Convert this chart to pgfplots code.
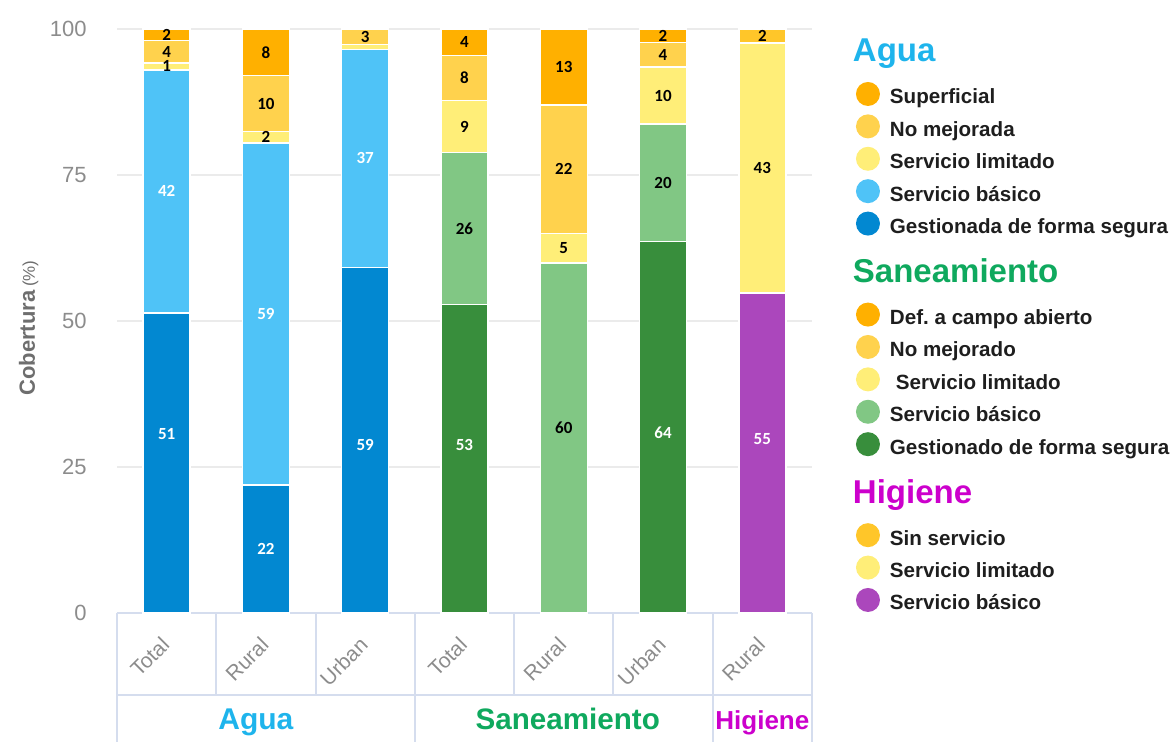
\documentclass[border=0pt]{standalone}
\usepackage{pgfplots}
\pgfplotsset{compat=1.18}
\usepackage{pgfplotstable}
\usepackage{fontspec}
\setmainfont{Liberation Sans}
\newfontfamily\carlito{Carlito}

\definecolor{supc}{HTML}{FFB000}
\definecolor{nomc}{HTML}{FFD24D}
\definecolor{limc}{HTML}{FFEE78}
\definecolor{aguaBas}{HTML}{4FC3F7}
\definecolor{aguaGest}{HTML}{0288D1}
\definecolor{sanBas}{HTML}{81C784}
\definecolor{sanGest}{HTML}{388E3C}
\definecolor{higSin}{HTML}{FFC629}
\definecolor{higBas}{HTML}{AB47BC}
\definecolor{aguaT}{HTML}{1EB4EC}
\definecolor{sanT}{HTML}{0FA95E}
\definecolor{higT}{HTML}{CC00CC}
\definecolor{tickgray}{HTML}{8C8C8C}
\definecolor{labgray}{HTML}{6E6E6E}
\definecolor{gridgray}{HTML}{EBEBEB}
\definecolor{tablec}{HTML}{D5DDEE}
\definecolor{legtext}{HTML}{1E1E1E}

% values (plotted heights), labels and label offsets (in %-points)
\pgfplotstableread{
x gest lgest ogest bas lbas lim llim nom lnom sup lsup
0 51.4 51 5.0 41.6 42 1.2 1 3.8 4 2.0 2
1 21.9 22 0 58.6 59 1.9 2 9.6 10 8.0 8
2 59.2 59 -0.8 37.3 37 0.8 {} 2.7 3 0 {}
3 0 {} 0 0 {} 0 {} 0 {} 0 {}
4 0 {} 0 0 {} 0 {} 0 {} 0 {}
5 0 {} 0 0 {} 0 {} 0 {} 0 {}
6 0 {} 0 0 {} 0 {} 0 {} 0 {}
}\agua

\pgfplotstableread{
x gest lgest ogest bas lbas obas lim llim nom lnom def ldef
0 0 {} 0 0 {} 0 0 {} 0 {} 0 {}
1 0 {} 0 0 {} 0 0 {} 0 {} 0 {}
2 0 {} 0 0 {} 0 0 {} 0 {} 0 {}
3 52.8 53 2.4 26.0 26 0 9.0 9 7.7 8 4.5 4
4 0 {} 0 59.9 60 1.7 5.1 5 22.0 22 13.0 13
5 63.6 64 -1.0 20.1 20 0 9.8 10 4.2 4 2.3 2
6 0 {} 0 0 {} 0 0 {} 0 {} 0 {}
}\san

\pgfplotstableread{
x bas lbas obas lim llim sin lsin
0 0 {} 0 0 {} 0 {}
1 0 {} 0 0 {} 0 {}
2 0 {} 0 0 {} 0 {}
3 0 {} 0 0 {} 0 {}
4 0 {} 0 0 {} 0 {}
5 0 {} 0 0 {} 0 {}
6 54.8 55 2.4 42.8 43 2.4 2
}\hig

\pgfplotsset{
  dot/.style={legend image code/.code={\fill[##1, draw=none] (6pt,0pt) circle (6pt);}},
  labshift/.style={visualization depends on={\thisrow{#1}\as\off},
    every node near coord/.append style={shift={(axis direction cs:0,\off)}}},
}

\begin{document}
\begin{tikzpicture}
\path[use as bounding box] (-58.5pt,-64.5pt) rectangle (528.5pt,306.5pt);
\begin{axis}[
  at={(0,0)}, anchor=south west,
  scale only axis, width=347.5pt, height=292pt,
  xmin=-0.5, xmax=6.5, ymin=0, ymax=100,
  ybar stacked, bar width=23.5pt,
  axis line style={draw=none},
  xtick={0,...,6},
  xticklabels={Total,Rural,Urban,Total,Rural,Urban,Rural},
  ytick={0,25,50,75,100},
  major tick length=0pt,
  ymajorgrids, major grid style={draw=gridgray, line width=0.8pt},
  /pgf/number format/assume math mode=true,
  yticklabel style={font=\fontsize{11}{11}\selectfont, text=tickgray, anchor=east, inner sep=0pt, xshift=-15pt},
  xticklabel style={font=\fontsize{10.5}{10.5}\selectfont, text=tickgray, inner sep=0pt, anchor=east, xshift=-0.5pt, yshift=-14pt, rotate=45},
  ylabel={\bfseries Cobertura\,{\mdseries\fontsize{8.5}{8.5}\selectfont(\%)}},
  every axis y label/.style={at={(axis description cs:0,0.488)}, xshift=-41pt, rotate=90, anchor=base, font=\fontsize{11}{11}\selectfont, text=labgray},
  point meta=explicit symbolic,
  nodes near coords,
  every node near coord/.append style={anchor=center, font=\carlito\bfseries\fontsize{8.5}{8.5}\selectfont, inner sep=0pt},
  clip=false,
  legend cell align=left,
  legend style={draw=none, fill=none, at={(1.0633,1.0168)}, anchor=north west, inner sep=0pt, outer sep=0pt, row sep=0pt, column sep=5pt, nodes={inner sep=0pt, text height=13.1pt, text depth=3.1pt, text=legtext, font=\bfseries\fontsize{10.3}{10.3}\selectfont}},
]
% Agua
\addplot[forget plot, fill=aguaGest, draw=white, line width=0.7pt, labshift=ogest, every node near coord/.append style={text=white}] table[x=x,y=gest,meta=lgest]{\agua};
\addplot[forget plot, fill=aguaBas, draw=white, line width=0.7pt, every node near coord/.append style={text=white}] table[x=x,y=bas,meta=lbas]{\agua};
\addplot[forget plot, fill=limc, draw=white, line width=0.7pt, every node near coord/.append style={text=black}] table[x=x,y=lim,meta=llim]{\agua};
\addplot[forget plot, fill=nomc, draw=white, line width=0.7pt, every node near coord/.append style={text=black}] table[x=x,y=nom,meta=lnom]{\agua};
\addplot[forget plot, fill=supc, draw=white, line width=0.7pt, every node near coord/.append style={text=black}] table[x=x,y=sup,meta=lsup]{\agua};
% Saneamiento
\addplot[forget plot, fill=sanGest, draw=white, line width=0.7pt, labshift=ogest, every node near coord/.append style={text=white}] table[x=x,y=gest,meta=lgest]{\san};
\addplot[forget plot, fill=sanBas, draw=white, line width=0.7pt, labshift=obas, every node near coord/.append style={text=black}] table[x=x,y=bas,meta=lbas]{\san};
\addplot[forget plot, fill=limc, draw=white, line width=0.7pt, every node near coord/.append style={text=black}] table[x=x,y=lim,meta=llim]{\san};
\addplot[forget plot, fill=nomc, draw=white, line width=0.7pt, every node near coord/.append style={text=black}] table[x=x,y=nom,meta=lnom]{\san};
\addplot[forget plot, fill=supc, draw=white, line width=0.7pt, every node near coord/.append style={text=black}] table[x=x,y=def,meta=ldef]{\san};
% Higiene
\addplot[forget plot, fill=higBas, draw=white, line width=0.7pt, labshift=obas, every node near coord/.append style={text=white}] table[x=x,y=bas,meta=lbas]{\hig};
\addplot[forget plot, fill=limc, draw=white, line width=0.7pt, every node near coord/.append style={text=black}] table[x=x,y=lim,meta=llim]{\hig};
\addplot[forget plot, fill=higSin, draw=white, line width=0.7pt, every node near coord/.append style={text=black}] table[x=x,y=sin,meta=lsin]{\hig};

% Legend
\addlegendimage{empty legend}
\addlegendentry[text height=21.4pt, text depth=7.9pt]{\hspace*{-18.5pt}{\color{aguaT}\fontsize{16.5}{16.5}\selectfont Agua}}
\addlegendimage{dot, fill=supc}\addlegendentry{Superficial}
\addlegendimage{dot, fill=nomc}\addlegendentry{No mejorada}
\addlegendimage{dot, fill=limc}\addlegendentry{Servicio limitado}
\addlegendimage{dot, fill=aguaBas}\addlegendentry{Servicio básico}
\addlegendimage{dot, fill=aguaGest}\addlegendentry{Gestionada de forma segura}
\addlegendimage{empty legend}
\addlegendentry[text height=21.4pt, text depth=7.9pt]{\hspace*{-18.5pt}{\color{sanT}\fontsize{16.5}{16.5}\selectfont Saneamiento}}
\addlegendimage{dot, fill=supc}\addlegendentry{Def.\ a campo abierto}
\addlegendimage{dot, fill=nomc}\addlegendentry{No mejorado}
\addlegendimage{dot, fill=limc}\addlegendentry{\hspace*{3pt}Servicio limitado}
\addlegendimage{dot, fill=sanBas}\addlegendentry{Servicio básico}
\addlegendimage{dot, fill=sanGest}\addlegendentry{Gestionado de forma segura}
\addlegendimage{empty legend}
\addlegendentry[text height=21.4pt, text depth=7.9pt]{\hspace*{-18.5pt}{\color{higT}\fontsize{16.5}{16.5}\selectfont Higiene}}
\addlegendimage{dot, fill=higSin}\addlegendentry{Sin servicio}
\addlegendimage{dot, fill=limc}\addlegendentry{Servicio limitado}
\addlegendimage{dot, fill=higBas}\addlegendentry{Servicio básico}

% category table below the axis
\draw[tablec, line width=1pt] (axis cs:-0.5,0) -- (axis cs:6.5,0);
\draw[tablec, line width=1pt] ([yshift=-41pt]axis cs:-0.5,0) -- ([yshift=-41pt]axis cs:6.5,0);
\draw[tablec, line width=1pt] (axis cs:0.5,0) -- ([yshift=-41pt]axis cs:0.5,0);
\draw[tablec, line width=1pt] (axis cs:1.5,0) -- ([yshift=-41pt]axis cs:1.5,0);
\draw[tablec, line width=1pt] (axis cs:3.5,0) -- ([yshift=-41pt]axis cs:3.5,0);
\draw[tablec, line width=1pt] (axis cs:4.5,0) -- ([yshift=-41pt]axis cs:4.5,0);
\draw[tablec, line width=1pt] (axis cs:-0.5,0) -- ([yshift=-70pt]axis cs:-0.5,0);
\draw[tablec, line width=1pt] (axis cs:2.5,0) -- ([yshift=-70pt]axis cs:2.5,0);
\draw[tablec, line width=1pt] (axis cs:5.5,0) -- ([yshift=-70pt]axis cs:5.5,0);
\draw[tablec, line width=1pt] (axis cs:6.5,0) -- ([yshift=-70pt]axis cs:6.5,0);
\node[anchor=base, font=\bfseries\fontsize{15}{15}\selectfont, text=aguaT, xshift=-5pt, yshift=-58.5pt] at (axis cs:1,0) {Agua};
\node[anchor=base, font=\bfseries\fontsize{14.8}{14.8}\selectfont, text=sanT, xshift=2pt, yshift=-58.5pt] at (axis cs:4,0) {Saneamiento};
\node[anchor=base, font=\bfseries\fontsize{13}{13}\selectfont, text=higT, yshift=-58.5pt] at (axis cs:6,0) {Higiene};
\end{axis}
\end{tikzpicture}
\end{document}
